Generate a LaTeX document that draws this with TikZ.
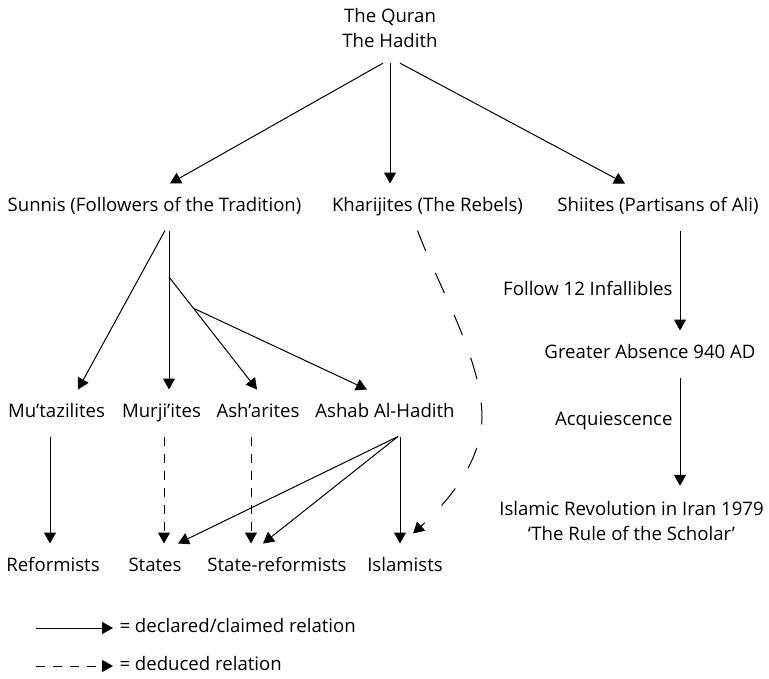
\documentclass[tikz,border=0pt]{standalone}
\usepackage{fontspec}
\setmainfont{Open Sans}
\usetikzlibrary{arrows.meta}

\begin{document}
\begin{tikzpicture}[x=1pt, y=-1pt, line width=1pt,
  font=\fontsize{18.6}{25}\selectfont,
  >={Triangle[length=11pt,width=12pt]},
  lbl/.style={inner xsep=0pt, inner ysep=0pt, text height=12pt, text depth=3pt, minimum height=46pt},
  twoline/.style={align=center, inner xsep=0pt, inner ysep=15pt},
  rel/.style={->},
  ded/.style={->, dash pattern=on 9pt off 8pt}]
\useasboundingbox (0,0) rectangle (769,678);

\node[twoline] (quran) at (390,28) {The Quran\\The Hadith};
\foreach \n/\x/\y/\t in {%
  sunni/154.5/207/{Sunnis (Followers of the Tradition)},
  khariji/427.5/207/{Kharijites (The Rebels)},
  shia/658/207/{Shiites (Partisans of Ali)},
  mutazila/56.5/413/{Mu’tazilites},
  murjia/161.5/413/{Murji’ites},
  ashari/258/413/{Ash’arites},
  ashab/385/413/{Ashab Al-Hadith},
  reform/53/567/{Reformists},
  states/155/567/{States},
  statereform/277/567/{State-reformists},
  islamist/405/567/{Islamists},
  absence/650/354/{Greater Absence 940 AD}} {
  \node[lbl] (\n) at (\x,\y) {\t};
}
\node[twoline] (revolution) at (631.5,521) {Islamic Revolution in Iran 1979\\‘The Rule of the Scholar’};

\foreach \a/\sa/\b/\sb in {%
  quran/-7/sunni/15.5, quran/0/khariji/-37.5, quran/10/shia/-33,
  sunni/10.5/mutazila/21.5, sunni/14.5/murjia/7.5,
  mutazila/-6.5/reform/-3, ashab/15/islamist/-5,
  ashab/13/states/23, ashab/13/statereform/-14} {
  \draw[rel] ([xshift=\sa pt]\a.south) -- ([xshift=\sb pt]\b.north);
}
\coordinate (j1) at (169,277);
\coordinate (j2) at (193,308);
\draw[rel] (j1) -- ([xshift=-1pt]ashari.north);
\draw[rel] (j2) -- ([xshift=-18pt]ashab.north);

\draw[ded] ([xshift=2.5pt]murjia.south) -- ([xshift=9pt]states.north);
\draw[ded] ([xshift=-7pt]ashari.south) -- ([xshift=-26pt]statereform.north);
\draw[->, dash pattern=on 22pt off 24pt] ([xshift=-10pt]khariji.south)
  .. controls (440,290) and (482,360) .. (482,417)
  .. controls (482,460) and (450,500) .. ([xshift=8pt,yshift=10pt]islamist.north);

\draw[rel] ([xshift=22pt]shia.south) -- ([xshift=30pt]absence.north)
  node[lbl, left, pos=0.6, inner xsep=7pt, minimum height=0pt] (follow) {Follow 12 Infallibles};
\draw[rel] ([xshift=30pt]absence.south) -- ([xshift=48.5pt]revolution.north)
  node[lbl, left, pos=0.4, inner xsep=7pt, minimum height=0pt] (acq) {Acquiescence};

\coordinate (legA) at (36,628);
\coordinate (legB) at (36,666);
\node[lbl, anchor=west, inner xsep=6pt, minimum height=0pt] (legsolid) at (113,628) {= declared/claimed relation};
\node[lbl, anchor=west, inner xsep=6pt, minimum height=0pt] (legdash) at (113,666) {= deduced relation};
\draw[rel] (legA) -- (legsolid);
\draw[ded] (legB) -- (legdash);
\end{tikzpicture}
\end{document}
